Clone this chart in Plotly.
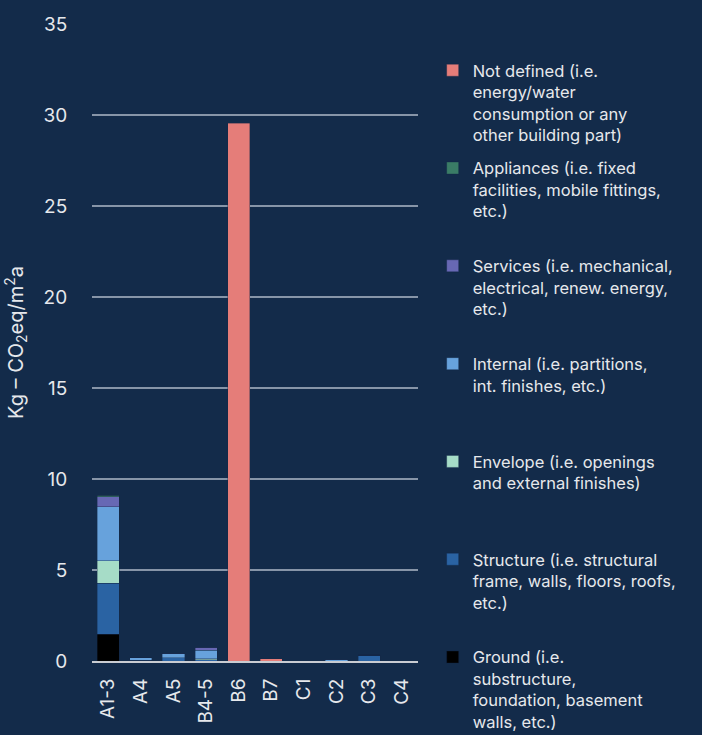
import plotly.graph_objects as go

categories = ["A1-3", "A4", "A5", "B4-5", "B6", "B7", "C1", "C2", "C3", "C4"]

ground = [1.48, 0, 0, 0, 0, 0, 0, 0, 0, 0]
structure = [2.79, 0.05, 0.17, 0.07, 0, 0, 0, 0, 0.32, 0]
envelope = [1.24, 0, 0, 0.05, 0, 0, 0, 0, 0, 0]
internal = [2.97, 0.12, 0.22, 0.48, 0, 0, 0, 0.1, 0, 0]
services = [0.55, 0.02, 0.04, 0.15, 0, 0, 0, 0, 0, 0]
appliances = [0.07, 0, 0, 0, 0, 0, 0, 0, 0.02, 0]
not_defined = [0, 0, 0, 0, 29.54, 0.12, 0, 0, 0, 0]

series = [
    ("Ground (i.e.<br>substructure,<br>foundation, basement<br>walls, etc.)", ground, "#000000"),
    ("Structure (i.e. structural<br>frame, walls, floors, roofs,<br>etc.)<br> ", structure, "#2a63a3"),
    ("Envelope (i.e. openings<br>and external finishes)<br> <br> ", envelope, "#a6dcc7"),
    ("Internal (i.e. partitions,<br>int. finishes, etc.)<br> <br> ", internal, "#67a2dc"),
    ("Services (i.e. mechanical,<br>electrical, renew. energy,<br>etc.)<br> ", services, "#6768b4"),
    ("Appliances (i.e. fixed<br>facilities, mobile fittings,<br>etc.)<br> ", appliances, "#3a7c66"),
    ("Not defined (i.e.<br>energy/water<br>consumption or any<br>other building part)", not_defined, "#e57d79"),
]

bg = "#132b4a"
txt = "#e6e8ec"

fig = go.Figure()
n = len(series)
for i, (name, vals, col) in enumerate(series):
    fig.add_trace(go.Bar(
        x=categories, y=vals, name=name,
        marker=dict(color=col, line=dict(width=0.6, color="rgba(20,40,70,0.6)")),
        legendgroup=str(i),
        legendrank=n - i,
    ))

fig.update_layout(
    barmode="stack",
    bargap=0.32,
    width=702, height=735,
    paper_bgcolor=bg, plot_bgcolor=bg,
    font=dict(family="Inter", color=txt, size=17),
    margin=dict(l=92, r=284, t=24, b=74, autoexpand=False),
    showlegend=True,
    legend=dict(
        x=1.045, xanchor="left", xref="paper",
        y=1 - 53 / 735, yanchor="top", yref="container",
        maxheight=735,
        traceorder="grouped",
        tracegroupgap=9,
        valign="top",
        font=dict(family="Inter", size=16.5, color=txt),
        itemwidth=30,
        bgcolor="rgba(0,0,0,0)",
    ),
    yaxis=dict(
        range=[0, 35], dtick=5,
        showgrid=True, gridcolor="#8795a8", gridwidth=2,
        zeroline=False,
        showline=False,
        ticks="outside", ticklen=20, tickcolor=bg,
        tickfont=dict(size=19, color=txt),
        title=dict(text="Kg – CO<sub>2</sub>eq/m<sup>2</sup>a", font=dict(size=20, color=txt), standoff=14),
        automargin=False,
    ),
    xaxis=dict(
        showline=True, linecolor="#c9ccd2", linewidth=2,
        tickangle=-90,
        tickfont=dict(size=19, color=txt),
        ticks="outside", ticklen=8, tickcolor=bg,
        automargin=False,
    ),
)

fig.write_html(
    "out.html",
    config={"displayModeBar": False},
    post_script="document.body.style.margin='0';document.body.style.background='" + bg + "';",
)
